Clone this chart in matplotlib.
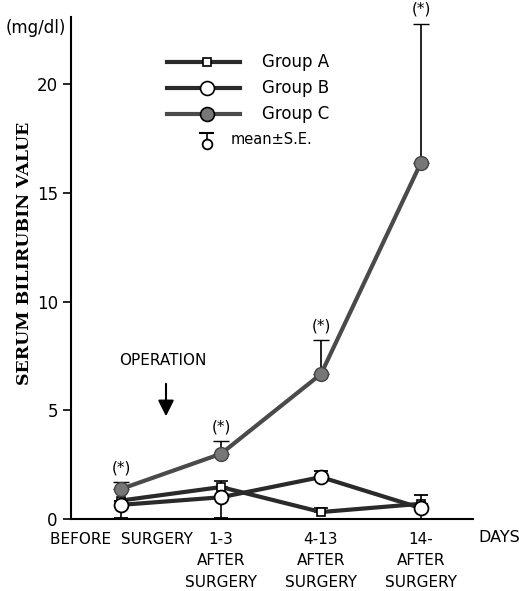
import numpy as np
import matplotlib
matplotlib.use('Agg')
import matplotlib.pyplot as plt

# --- data ---
periods = ['BEFORE  SURGERY', '1-3\nAFTER\nSURGERY', '4-13\nAFTER\nSURGERY', '14-\nAFTER\nSURGERY']
group_a = [0.85, 1.47, 0.32, 0.70]
group_a_lo = [0.0, 0.0, 0.0, 0.0]
group_a_hi = [0.0, 0.30, 0.20, 0.0]
group_b = [0.65, 1.00, 1.93, 0.50]
group_b_lo = [0.60, 0.95, 0.0, 0.50]
group_b_hi = [0.0, 0.0, 0.28, 0.60]
group_c = [1.38, 3.00, 6.67, 16.40]
group_c_lo = [0.0, 0.0, 0.0, 0.0]
group_c_hi = [0.32, 0.60, 1.55, 6.40]
significant = [True, True, True, True]

x = np.arange(len(periods))

fig = plt.figure(figsize=(5.19, 5.91), dpi=100)
ax = fig.add_axes([71/519, 72/591, 402/519, 502/591])

line_col = '#2a2a2a'
c_col = '#4a4a4a'

ax.errorbar(x, group_a, yerr=[group_a_lo, group_a_hi], color=line_col, lw=3,
            marker='s', ms=6, mfc='white', mec='black', mew=1.2,
            ecolor='black', elinewidth=1.2, capsize=5, capthick=1.5, zorder=3)
ax.errorbar(x, group_b, yerr=[group_b_lo, group_b_hi], color=line_col, lw=3,
            marker='o', ms=10, mfc='white', mec='black', mew=1.3,
            ecolor='black', elinewidth=1.2, capsize=5, capthick=1.5, zorder=4)
ax.errorbar(x, group_c, yerr=[group_c_lo, group_c_hi], color=c_col, lw=3,
            marker='o', ms=10, mfc='#777777', mec='#444444', mew=1.0,
            ecolor='black', elinewidth=1.2, capsize=6, capthick=1.5, zorder=5)

for xi, yi, hi, s in zip(x, group_c, group_c_hi, significant):
    if s:
        ax.text(xi, yi + hi + 0.3, '(*)', ha='center', va='bottom', fontsize=11)

ax.set_xlim(-0.5, 3.52)
ax.set_ylim(0, 23.1)
ax.set_yticks([0, 5, 10, 15, 20])
ax.tick_params(axis='y', direction='out', length=6, width=1.2, labelsize=12)
ax.set_xticks(x)
ax.set_xticklabels(periods, fontsize=11, linespacing=1.55, va='top')
ax.tick_params(axis='x', length=0, pad=9)
for sp in ['top', 'right']:
    ax.spines[sp].set_visible(False)
ax.spines['left'].set_linewidth(1.5)
ax.spines['bottom'].set_linewidth(1.5)

ax.set_ylabel('SERUM BILIRUBIN VALUE', fontsize=12.5, fontweight='bold',
              family='DejaVu Serif')
ax.yaxis.set_label_coords(-0.095, 0.53)
fig.text(6/519, 1 - 28/591, '(mg/dl)', fontsize=12, va='center', ha='left')
fig.text(478/519, 1 - 537/591, 'DAYS', fontsize=11.5, va='center', ha='left')

# operation marker
ax.text(0.42, 7.3, 'OPERATION', ha='center', va='center', fontsize=11)
ax.annotate('', xy=(0.45, 4.6), xytext=(0.45, 6.35),
            arrowprops=dict(arrowstyle='-|>', color='black', lw=1.5,
                            mutation_scale=24))

# legend drawn by hand
rows = [('Group A', 's', 6, 'white', line_col),
        ('Group B', 'o', 10, 'white', line_col),
        ('Group C', 'o', 10, '#777777', c_col)]
ys = [0.910, 0.859, 0.807]
for (lab, mk, ms, fc, lc), yy in zip(rows, ys):
    ax.plot([0.239, 0.420], [yy, yy], transform=ax.transAxes, color=lc, lw=3, clip_on=False)
    ax.plot([0.338], [yy], transform=ax.transAxes, marker=mk, ms=ms, mfc=fc,
            mec='black', mew=1.2, clip_on=False)
    ax.text(0.475, yy, lab, transform=ax.transAxes, va='center', fontsize=12)
ax.plot([0.338, 0.338], [0.748, 0.768], transform=ax.transAxes, color='black', lw=1.2)
ax.plot([0.322, 0.354], [0.768, 0.768], transform=ax.transAxes, color='black', lw=1.5)
ax.plot([0.338], [0.748], transform=ax.transAxes, marker='o', ms=7, mfc='white',
        mec='black', mew=1.3)
ax.text(0.396, 0.755, 'mean±S.E.', transform=ax.transAxes, va='center', fontsize=10.5)

fig.savefig('out.png', dpi=100)
